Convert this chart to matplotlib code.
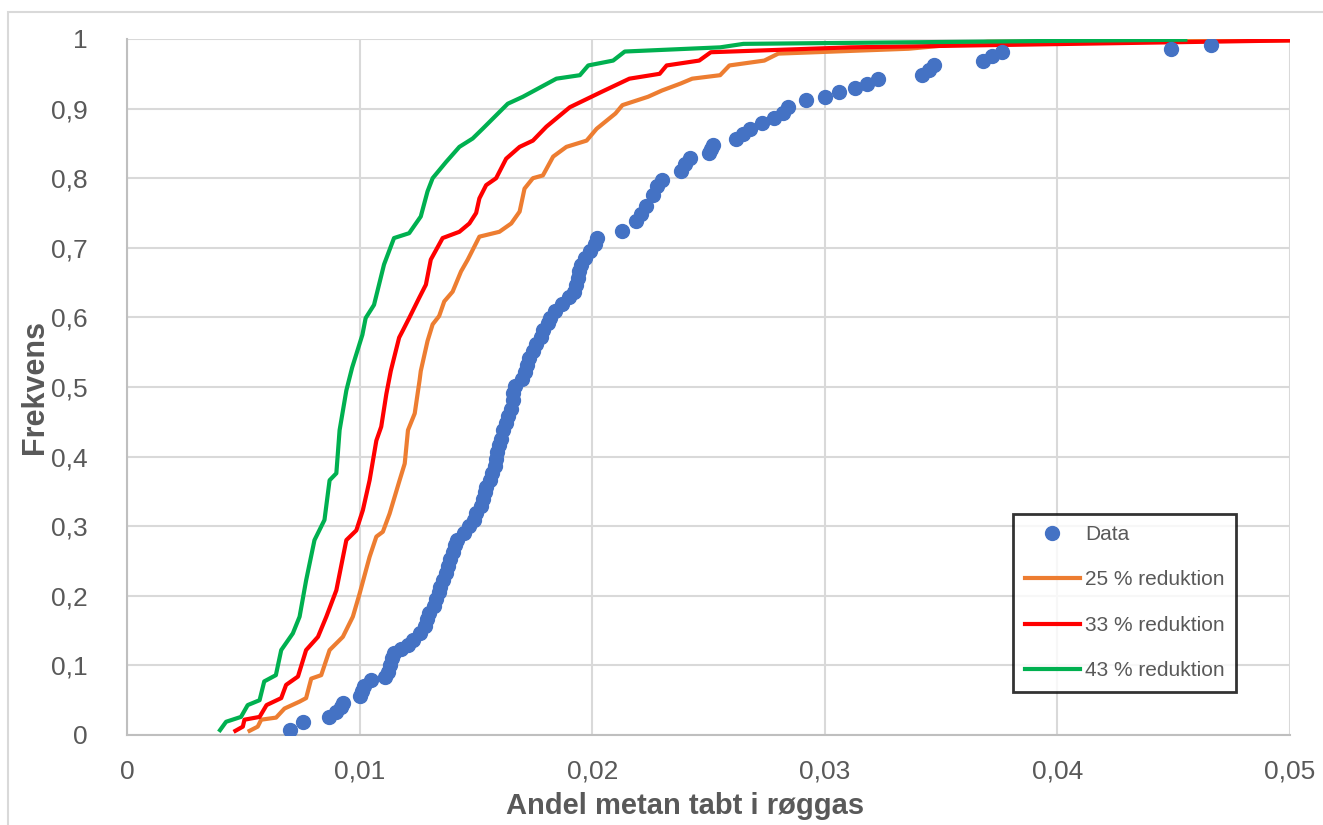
import matplotlib
matplotlib.use('Agg')
import matplotlib.pyplot as plt
from matplotlib.patches import Rectangle

plt.rcParams['font.family'] = ['Liberation Sans', 'DejaVu Sans']

# ECDF of measured data (x = andel metan, y = frekvens)
data_x = [0.0070, 0.00756, 0.0087, 0.0090, 0.0092, 0.0093, 0.0100, 0.0101, 0.0102, 0.0105,
          0.0111, 0.0112, 0.0113, 0.0114, 0.0115, 0.0118, 0.0121, 0.0123, 0.0126, 0.0128,
          0.0129, 0.0130, 0.0132, 0.0133, 0.0134, 0.01345, 0.0136, 0.0137, 0.0138, 0.0139,
          0.0140, 0.0141, 0.0142, 0.0145, 0.0147, 0.0149, 0.0150, 0.0152, 0.0153, 0.0154,
          0.01545, 0.0156, 0.0157, 0.0158, 0.01585, 0.0159, 0.0160, 0.0161, 0.01617, 0.0163,
          0.0164, 0.0165, 0.0166, 0.0166, 0.0167, 0.0170, 0.0171, 0.0172, 0.0173, 0.01745,
          0.0176, 0.0178, 0.0179, 0.0181, 0.0182, 0.0184, 0.0187, 0.0190, 0.0192, 0.0193,
          0.0194, 0.01945, 0.0195, 0.0197, 0.0199, 0.0201, 0.0202,
          0.0213, 0.0219, 0.0221, 0.0223, 0.0226, 0.0228, 0.0230, 0.0238, 0.0240, 0.0242,
          0.0250, 0.0251, 0.0252, 0.0262, 0.0265, 0.0268, 0.0273, 0.0278, 0.0282, 0.0284,
          0.0292, 0.0300, 0.0306, 0.0313, 0.0318, 0.0323, 0.0342, 0.0345, 0.0347, 0.0368,
          0.0372, 0.0376, 0.0449, 0.0466]
data_y = [0.007, 0.019, 0.026, 0.033, 0.040, 0.046, 0.056, 0.063, 0.070, 0.079,
          0.084, 0.090, 0.100, 0.110, 0.118, 0.124, 0.130, 0.136, 0.146, 0.156,
          0.166, 0.175, 0.185, 0.195, 0.205, 0.213, 0.223, 0.233, 0.243, 0.253,
          0.263, 0.273, 0.280, 0.290, 0.300, 0.309, 0.319, 0.329, 0.339, 0.349,
          0.356, 0.366, 0.376, 0.386, 0.396, 0.406, 0.416, 0.426, 0.438, 0.448,
          0.458, 0.468, 0.481, 0.491, 0.501, 0.511, 0.521, 0.531, 0.541, 0.552,
          0.562, 0.572, 0.582, 0.592, 0.599, 0.609, 0.619, 0.629, 0.637, 0.647,
          0.657, 0.667, 0.676, 0.686, 0.696, 0.706, 0.714,
          0.724, 0.738, 0.748, 0.760, 0.776, 0.789, 0.798, 0.810, 0.820, 0.829,
          0.836, 0.842, 0.848, 0.857, 0.864, 0.871, 0.879, 0.886, 0.894, 0.902,
          0.912, 0.917, 0.924, 0.929, 0.936, 0.942, 0.948, 0.955, 0.962, 0.969,
          0.975, 0.981, 0.986, 0.991]

# 25 % reduktion
red25_x = [0.00527, 0.00562, 0.00577, 0.00641, 0.00677, 0.00742, 0.0077, 0.00792, 0.00835, 0.00871,
           0.00928, 0.00971, 0.0100, 0.01043, 0.01072, 0.0110, 0.01129, 0.01172, 0.01194, 0.01208,
           0.01237, 0.01258, 0.01263, 0.01292, 0.01314, 0.01342, 0.01364, 0.0140, 0.01436, 0.01465,
           0.01515, 0.01601, 0.01652, 0.01688, 0.01709, 0.01745, 0.01788, 0.01832, 0.01889, 0.01976,
           0.02019, 0.0210, 0.0213, 0.0224, 0.0230, 0.0238, 0.0243, 0.0255, 0.0259, 0.0274,
           0.0280, 0.0336, 0.0349, 0.0370, 0.0500]
red25_y = [0.006, 0.012, 0.022, 0.025, 0.038, 0.048, 0.053, 0.081, 0.086, 0.122,
           0.141, 0.170, 0.203, 0.256, 0.285, 0.292, 0.318, 0.366, 0.390, 0.438,
           0.462, 0.510, 0.523, 0.566, 0.590, 0.602, 0.623, 0.637, 0.666, 0.683,
           0.716, 0.723, 0.735, 0.752, 0.785, 0.800, 0.804, 0.831, 0.845, 0.854,
           0.871, 0.893, 0.905, 0.917, 0.926, 0.936, 0.943, 0.948, 0.962, 0.969,
           0.979, 0.986, 0.990, 0.996, 0.998]

# 33 % reduktion
red33_x = [0.00466, 0.00498, 0.00505, 0.0057, 0.0060, 0.00663, 0.00684, 0.00735, 0.0077, 0.00821,
           0.00857, 0.0090, 0.00943, 0.00986, 0.01014, 0.01043, 0.01072, 0.01093, 0.01115, 0.01134,
           0.0117, 0.01184, 0.01213, 0.01256, 0.01285, 0.01306, 0.01357, 0.01429, 0.01472, 0.01501,
           0.01515, 0.01544, 0.01587, 0.0163, 0.01688, 0.01745, 0.01803, 0.01904, 0.0204, 0.0216,
           0.0229, 0.0232, 0.0246, 0.0251, 0.0311, 0.0501]
red33_y = [0.006, 0.012, 0.022, 0.026, 0.043, 0.053, 0.072, 0.084, 0.122, 0.141,
           0.170, 0.208, 0.280, 0.294, 0.323, 0.366, 0.423, 0.443, 0.490, 0.523,
           0.571, 0.580, 0.599, 0.628, 0.647, 0.683, 0.714, 0.723, 0.735, 0.750,
           0.771, 0.790, 0.800, 0.828, 0.845, 0.854, 0.874, 0.902, 0.924, 0.943,
           0.950, 0.962, 0.969, 0.981, 0.988, 0.998]

# 43 % reduktion
red43_x = [0.0040, 0.00426, 0.0049, 0.00519, 0.0057, 0.0059, 0.0064, 0.00663, 0.00713, 0.00742,
           0.0077, 0.00806, 0.00849, 0.00871, 0.0090, 0.00914, 0.00943, 0.00968, 0.01012, 0.01026,
           0.01062, 0.01105, 0.01148, 0.01213, 0.01263, 0.01292, 0.01314, 0.01371, 0.01429, 0.01486,
           0.01529, 0.01616, 0.01637, 0.01702, 0.01846, 0.01947, 0.01983, 0.0209, 0.0214, 0.0255,
           0.0265, 0.0455]
red43_y = [0.007, 0.019, 0.026, 0.043, 0.050, 0.077, 0.086, 0.122, 0.146, 0.170,
           0.222, 0.280, 0.309, 0.366, 0.376, 0.438, 0.495, 0.528, 0.575, 0.599,
           0.618, 0.676, 0.714, 0.721, 0.745, 0.781, 0.800, 0.823, 0.845, 0.857,
           0.871, 0.900, 0.907, 0.917, 0.943, 0.948, 0.962, 0.969, 0.982, 0.988,
           0.993, 0.999]

x_ticks = [0, 0.01, 0.02, 0.03, 0.04, 0.05]
x_ticklabels = ['0', '0,01', '0,02', '0,03', '0,04', '0,05']
y_ticks = [0, 0.1, 0.2, 0.3, 0.4, 0.5, 0.6, 0.7, 0.8, 0.9, 1.0]
y_ticklabels = ['0', '0,1', '0,2', '0,3', '0,4', '0,5', '0,6', '0,7', '0,8', '0,9', '1']

txt_color = '#595959'

fig = plt.figure(figsize=(13.23, 8.25), dpi=100)
fig.patch.set_facecolor('white')
# chart area border
fig.patches.append(Rectangle((8 / 1323, -0.1), 1.2, 1.1 - 12 / 825, transform=fig.transFigure,
                             fill=False, edgecolor='#D9D9D9', linewidth=1.5))

ax = fig.add_axes([127 / 1323, 1 - 735 / 825, 1163 / 1323, 696 / 825])

ax.plot(data_x, data_y, 'o', color='#4472C4', markersize=10, label='Data', zorder=5)
ax.plot(red25_x, red25_y, color='#ED7D31', linewidth=3, label='25 % reduktion', zorder=3)
ax.plot(red33_x, red33_y, color='#FF0000', linewidth=3, label='33 % reduktion', zorder=3)
ax.plot(red43_x, red43_y, color='#00B050', linewidth=3, label='43 % reduktion', zorder=3)

ax.set_xlim(0, 0.05)
ax.set_ylim(0, 1)
ax.set_xticks(x_ticks)
ax.set_xticklabels(x_ticklabels)
ax.set_yticks(y_ticks)
ax.set_yticklabels(y_ticklabels)
ax.tick_params(length=0, labelsize=19, colors=txt_color)
ax.tick_params(axis='x', pad=18)
ax.tick_params(axis='y', pad=28)

ax.grid(True, color='#D9D9D9', linewidth=1.5, zorder=0)
ax.set_axisbelow(True)
for s in ['top', 'right']:
    ax.spines[s].set_visible(False)
for s in ['left', 'bottom']:
    ax.spines[s].set_color('#BFBFBF')
    ax.spines[s].set_linewidth(1.5)

ax.set_xlabel('Andel metan tabt i røggas', fontsize=21, fontweight='bold', color=txt_color)
ax.xaxis.set_label_coords(0.48, -0.082)
ax.set_ylabel('Frekvens', fontsize=22, fontweight='bold', color=txt_color)
ax.yaxis.set_label_coords(-0.066, 0.5)

leg = ax.legend(loc='lower left', bbox_to_anchor=(0.762, 0.062), borderaxespad=0, fontsize=15,
                frameon=True, fancybox=False, edgecolor='black', labelspacing=1.27,
                handlelength=2.65, handletextpad=0.25, borderpad=0.55)
leg.get_frame().set_linewidth(2)
for t in leg.get_texts():
    t.set_color(txt_color)

plt.savefig('out.png', dpi=100)
